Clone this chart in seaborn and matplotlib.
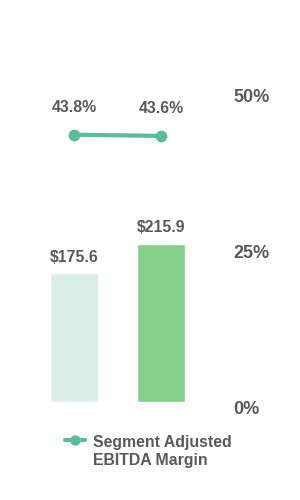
import numpy as np
import seaborn as sns
import matplotlib.pyplot as plt
from matplotlib.lines import Line2D

# chart data
periods = ["Prior Year", "Current Year"]
ebitda = [175.6, 215.9]          # segment adjusted EBITDA ($M)
margin = [43.8, 43.6]            # segment adjusted EBITDA margin (%)
margin_ticks = [0, 25, 50]
legend_label = "Segment Adjusted\nEBITDA Margin"

bar_colors = ["#DCEEE8", "#86CF8A"]
line_color = "#5BBB9B"
text_color = "#595959"

sns.set_style("white")
plt.rcParams["font.family"] = ["Liberation Sans", "DejaVu Sans"]
plt.rcParams["font.weight"] = "bold"

fig = plt.figure(figsize=(3, 5), dpi=100)
ax = fig.add_axes([0.1017, 0.184, 0.58, 0.624])

# Bars - EBITDA dollars (hidden left axis)
sns.barplot(x=periods, y=ebitda, hue=periods, palette=bar_colors,
            width=0.55, legend=False, ax=ax, saturation=1)
ax.set_ylim(-8.2, 418)
ax.set_xlim(-0.5, 1.5)
ax.set_yticks([])
ax.set_xticks([])
ax.set_xlabel("")
ax.set_ylabel("")
for i, v in enumerate(ebitda):
    ax.annotate(f"${v:.1f}", (i, v), xytext=(0, 11.5), textcoords="offset points",
                ha="center", va="center", fontsize=11.4, fontweight="bold",
                color=text_color)

# Line - margin on right axis
ax2 = ax.twinx()
x = np.arange(len(periods))
sns.lineplot(x=x, y=margin, ax=ax2, color=line_color, linewidth=3,
             marker="o", markersize=8.5, markeredgewidth=0)
ax2.set_ylim(0, 50)
ax2.set_yticks(margin_ticks)
ax2.set_yticklabels([f"{t}%" for t in margin_ticks], fontsize=13,
                    fontweight="bold", color=text_color)
ax2.tick_params(axis="y", length=0, pad=20.5)
ax2.set_ylabel("")
for i, v in enumerate(margin):
    ax2.annotate(f"{v}%", (i, v), xytext=(0, 19.5), textcoords="offset points",
                 ha="center", va="center", fontsize=11.4, fontweight="bold",
                 color=text_color)

for a in (ax, ax2):
    for s in a.spines.values():
        s.set_visible(False)

# legend (handle aligned with the first text line)
fig.add_artist(Line2D([65 / 300, 75 / 300, 85 / 300], [1 - 440 / 500] * 3,
                      transform=fig.transFigure, color=line_color, linewidth=3,
                      marker="o", markersize=7.5, markevery=[1], markeredgewidth=0))
fig.text(93 / 300, 1 - 434.5 / 500, legend_label, ha="left", va="top", fontsize=11.4,
         fontweight="bold", color=text_color, linespacing=1.3)

fig.savefig("out.png", dpi=100)
